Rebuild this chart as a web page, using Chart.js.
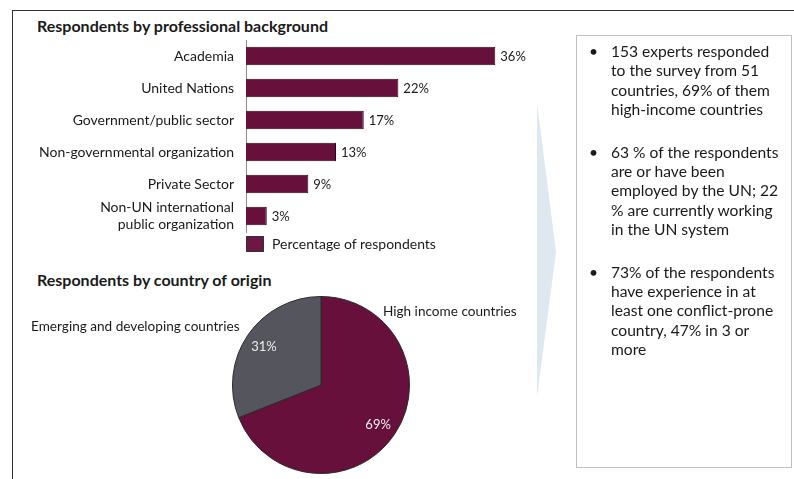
<!DOCTYPE html>
<html>
<head>
<meta charset="utf-8">
<script src="https://cdn.jsdelivr.net/npm/chart.js@4"></script>
<style>
    body { margin: 0; width: 794px; height: 479px; background: #fff; position: relative; overflow: hidden; font-family: Lato, 'Open Sans', sans-serif; color: #1a1a1a; }
    .frame { position: absolute; left: 12px; top: 10px; right: -2px; bottom: -2px; border-left: 1px solid #333; border-top: 1px solid #333; }
    .title { position: absolute; left: 37px; font-weight: bold; font-size: 16px; line-height: 18px; }
    canvas { position: absolute; }
    .legend { position: absolute; left: 246px; top: 235px; font-size: 14px; line-height: 18px; display: flex; align-items: center; }
    .legend span.box { width: 18px; height: 16px; border: 1px solid #333; box-sizing: border-box; margin-right: 8px; }
    .notes { position: absolute; left: 576px; top: 35px; width: 216px; height: 433px; border: 1px solid #bfbfbf; box-sizing: border-box; font-size: 15.6px; line-height: 19.3px; padding-top: 6px; }
    .notes div { position: relative; padding-left: 34px; margin-bottom: 23.5px; }
    .notes div::before { content: '\2022'; position: absolute; left: 12px; }
</style>
</head>
<body>
<div class="frame"></div>
<div class="title" style="top:17px">Respondents by professional background</div>
<canvas id="barChart" width="560" height="262" style="left:0;top:0"></canvas>
<div class="legend" id="barLegend"></div>
<div class="title" style="top:271px">Respondents by country of origin</div>
<canvas id="pieChart" width="520" height="194" style="left:13px;top:285px"></canvas>
<svg style="position:absolute;left:0;top:0" width="794" height="479">
    <polygon points="537,103 556,252 537,397" fill="#dde8f1"/>
</svg>
<div class="notes">
    <div>153 experts responded<br>to the survey from 51<br>countries, 69% of them<br>high-income countries</div>
    <div>63 % of the respondents<br>are or have been<br>employed by the UN; 22<br>% are currently working<br>in the UN system</div>
    <div>73% of the respondents<br>have experience in at<br>least one conflict-prone<br>country, 47% in 3 or<br>more</div>
</div>
<script>
// ---- data ----
const categories = [
    'Academia',
    'United Nations',
    'Government/public sector',
    'Non-governmental organization',
    'Private Sector',
    ['Non-UN international', 'public organization']
];
const shares = [36, 22, 17, 13, 9, 3];
const seriesLabel = 'Percentage of respondents';
const originLabels = ['High income countries', 'Emerging and developing countries'];
const originShares = [69, 31];

const MAROON = '#66103b';
const GREY = '#54555d';
const FONT = 'Lato, "Open Sans", sans-serif';

// value labels at the end of each bar
const barValueLabels = {
    id: 'barValueLabels',
    afterDatasetsDraw(chart) {
        const ctx = chart.ctx;
        const meta = chart.getDatasetMeta(0);
        ctx.save();
        ctx.font = '13px ' + FONT;
        ctx.fillStyle = '#1a1a1a';
        ctx.textAlign = 'left';
        ctx.textBaseline = 'middle';
        meta.data.forEach((bar, i) => {
            ctx.fillText(shares[i] + '%', bar.x + 5, bar.y + 1);
        });
        ctx.restore();
    }
};

new Chart(document.getElementById('barChart'), {
    type: 'bar',
    data: {
        labels: categories,
        datasets: [{
            label: seriesLabel,
            data: shares,
            backgroundColor: MAROON,
            borderColor: '#2a0718',
            borderWidth: 1,
            categoryPercentage: 1,
            barPercentage: 0.58
        }]
    },
    options: {
        indexAxis: 'y',
        responsive: false,
        animation: false,
        devicePixelRatio: 1,
        layout: { padding: { left: 0, right: 37, top: 40, bottom: 30 } },
        plugins: { legend: { display: false }, tooltip: { enabled: false } },
        scales: {
            x: { display: false, min: 0, max: 40 },
            y: {
                afterFit: (scale) => { scale.width = 246; },
                grid: { display: false, drawTicks: false },
                border: { color: '#8c8c8c', width: 1 },
                ticks: { autoSkip: false, padding: 12, color: '#1a1a1a', font: { family: FONT, size: 14, lineHeight: 1.15 } }
            }
        }
    },
    plugins: [barValueLabels]
});

// html legend from the dataset
const legendEl = document.getElementById('barLegend');
legendEl.innerHTML = `<span class="box" style="background:#6e1745"></span>${seriesLabel}`;

// labels for the pie: percentages inside, category names outside
const pieLabels = {
    id: 'pieLabels',
    afterDatasetsDraw(chart) {
        const ctx = chart.ctx;
        const arcs = chart.getDatasetMeta(0).data;
        ctx.save();
        ctx.textBaseline = 'middle';
        arcs.forEach((arc, i) => {
            const mid = (arc.startAngle + arc.endAngle) / 2;
            const r = arc.outerRadius * 0.78;
            ctx.font = '13px ' + FONT;
            ctx.fillStyle = '#ececec';
            ctx.textAlign = 'center';
            ctx.fillText(originShares[i] + '%', arc.x + Math.cos(mid) * r, arc.y + Math.sin(mid) * r + 1);
        });
        const a = arcs[0];
        ctx.font = '13.6px ' + FONT;
        ctx.fillStyle = '#1a1a1a';
        ctx.textAlign = 'left';
        ctx.fillText(originLabels[0], a.x + a.outerRadius * 0.70, a.y - a.outerRadius * 0.83);
        ctx.textAlign = 'right';
        ctx.fillText(originLabels[1], a.x - a.outerRadius * 0.92, a.y - a.outerRadius * 0.66);
        ctx.restore();
    }
};

new Chart(document.getElementById('pieChart'), {
    type: 'pie',
    data: {
        labels: originLabels,
        datasets: [{
            data: originShares,
            backgroundColor: [MAROON, GREY],
            borderColor: '#2b2b2b',
            borderWidth: 1
        }]
    },
    options: {
        responsive: false,
        animation: false,
        devicePixelRatio: 1,
        layout: { padding: { left: 219, right: 123, top: 11, bottom: 5 } },
        plugins: { legend: { display: false }, tooltip: { enabled: false } }
    },
    plugins: [pieLabels]
});
</script>
</body>
</html>
